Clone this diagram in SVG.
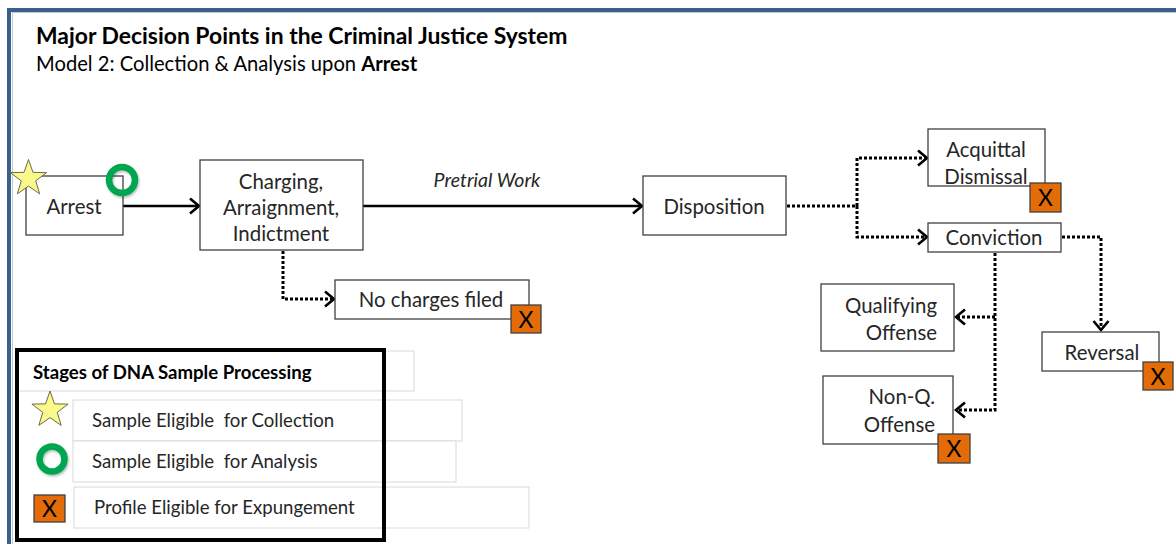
<svg xmlns="http://www.w3.org/2000/svg" width="1176" height="544" viewBox="0 0 1176 544">
<defs>
<style>
text{font-family:Lato,"Open Sans","Liberation Sans",sans-serif;fill:#262626}
.box{fill:#fff;stroke:#404040;stroke-width:1.3}
.lbl{font-size:20.4px;text-anchor:middle}
.lblr{font-size:20.4px;text-anchor:end}
.xb{fill:#e36c09;stroke:#404040;stroke-width:1.3}
.xt{font-size:23px;text-anchor:middle;fill:#000}
.solid{fill:none;stroke:#000;stroke-width:2.6}
.dot{fill:none;stroke:#000;stroke-width:3;stroke-dasharray:3 2}
.lg{fill:#fff;stroke:#d9d9d9;stroke-width:1}
.lt{font-size:18.6px;white-space:pre}
.star{fill:#fafa8c;stroke:#6b6b4a;stroke-width:1}
.ring{fill:none;stroke:#00a650;stroke-width:6.5}
</style>
<marker id="ah" markerUnits="userSpaceOnUse" markerWidth="14" markerHeight="18" refX="10" refY="8" orient="auto" overflow="visible">
<path d="M1,0.5 L10,8 L1,15.5" fill="none" stroke="#000" stroke-width="2.6"/>
</marker>
<polygon id="st" points="0,-19 4.47,-6.15 18.07,-5.87 7.23,2.35 11.17,15.37 0,7.6 -11.17,15.37 -7.23,2.35 -18.07,-5.87 -4.47,-6.15"/>
<filter id="sh" x="-30%" y="-30%" width="160%" height="160%"><feDropShadow dx="1" dy="1.5" stdDeviation="1" flood-color="#000" flood-opacity="0.3"/></filter>
</defs>
<rect width="1176" height="544" fill="#fff"/>
<g id="frame">
<line x1="8" y1="10" x2="1176" y2="10" stroke="#3b5f8f" stroke-width="4"/>
<line x1="9" y1="8" x2="9" y2="544" stroke="#3b5f8f" stroke-width="4"/>
<line x1="12" y1="12.5" x2="1176" y2="12.5" stroke="#c8c8c8" stroke-width="1"/>
<line x1="12.5" y1="12" x2="12.5" y2="544" stroke="#c8c8c8" stroke-width="1"/>
</g>
<g id="title">
<text x="36" y="44" style="font-size:22.9px;font-weight:bold;fill:#000">Major Decision Points in the Criminal Justice System</text>
<text x="36" y="71" style="font-size:20.2px;fill:#000">Model 2: Collection &amp; Analysis upon <tspan style="font-weight:bold">Arrest</tspan></text>
</g>
<g id="connectors">
<line class="solid" x1="123" y1="206" x2="199" y2="206" marker-end="url(#ah)"/>
<line class="solid" x1="363" y1="206" x2="642" y2="206" marker-end="url(#ah)"/>
<text x="487" y="187" style="font-size:19.5px;font-style:italic;text-anchor:middle">Pretrial Work</text>
<path class="dot" d="M283,251 V299 H334" marker-end="url(#ah)"/>
<path class="dot" d="M787,206 H857 V158 H927" marker-end="url(#ah)"/>
<path class="dot" d="M857,206 V237 H927" marker-end="url(#ah)"/>
<path class="dot" d="M1062,237 H1101 V330" marker-end="url(#ah)"/>
<path class="dot" d="M995,253 V410 H956" marker-end="url(#ah)"/>
<path class="dot" d="M995,317 H956" marker-end="url(#ah)"/>
</g>
<g id="arrest">
<rect class="box" x="26" y="176" width="97" height="59"/>
<text class="lbl" x="74" y="213.5">Arrest</text>
<use href="#st" class="star" x="28.5" y="178.5"/>
<circle class="ring" cx="122" cy="180" r="13" filter="url(#sh)"/>
</g>
<g id="charging">
<rect class="box" x="200" y="160" width="163" height="90"/>
<text class="lbl" x="281" y="188.5">Charging,</text>
<text class="lbl" x="281" y="214.5">Arraignment,</text>
<text class="lbl" x="281" y="240.5">Indictment</text>
</g>
<g id="no-charges">
<rect class="box" x="335" y="280" width="194" height="39"/>
<text class="lbl" x="431" y="306.5">No charges filed</text>
<rect class="xb" x="511" y="305" width="30" height="28"/>
<text class="xt" x="526" y="327.5">X</text>
</g>
<g id="disposition">
<rect class="box" x="643" y="176" width="143" height="59"/>
<text class="lbl" x="714" y="213.5">Disposition</text>
</g>
<g id="acquittal">
<rect class="box" x="928" y="129" width="117" height="57"/>
<text class="lbl" x="986" y="156.5">Acquittal</text>
<text class="lbl" x="986" y="183.5">Dismissal</text>
<rect class="xb" x="1030" y="183" width="31" height="29"/>
<text class="xt" x="1045.5" y="206">X</text>
</g>
<g id="conviction">
<rect class="box" x="928" y="223" width="133" height="29"/>
<text class="lbl" x="994" y="244.5">Conviction</text>
</g>
<g id="reversal">
<rect class="box" x="1042" y="332" width="117" height="39"/>
<text class="lbl" x="1102" y="359.5">Reversal</text>
<rect class="xb" x="1143" y="362" width="30" height="28"/>
<text class="xt" x="1158" y="384.5">X</text>
</g>
<g id="qualifying">
<rect class="box" x="821" y="284" width="133" height="67"/>
<text class="lblr" x="937" y="312.5">Qualifying</text>
<text class="lblr" x="937" y="339.5">Offense</text>
</g>
<g id="non-q">
<rect class="box" x="823" y="376" width="130" height="68"/>
<text class="lblr" x="935" y="403.5">Non-Q.</text>
<text class="lblr" x="935" y="431.5">Offense</text>
<rect class="xb" x="938" y="434" width="32" height="29"/>
<text class="xt" x="954" y="457">X</text>
</g>
<g id="legend">
<rect class="lg" x="17" y="351" width="397" height="40"/>
<rect class="lg" x="73" y="400" width="389" height="41"/>
<rect class="lg" x="73" y="441" width="383" height="41"/>
<rect class="lg" x="74" y="487" width="455" height="41"/>
<rect x="17" y="350" width="367" height="190" fill="none" stroke="#000" stroke-width="4"/>
<text x="33" y="379" style="font-size:18.6px;font-weight:bold;fill:#000">Stages of DNA Sample Processing</text>
<use href="#st" class="star" x="50" y="410"/>
<text class="lt" x="92" y="427" xml:space="preserve">Sample Eligible  for Collection</text>
<circle class="ring" cx="52" cy="459" r="12.5" filter="url(#sh)"/>
<text class="lt" x="92" y="468" xml:space="preserve">Sample Eligible  for Analysis</text>
<rect class="xb" x="34" y="495" width="31" height="27"/>
<text class="xt" x="49.5" y="516.5">X</text>
<text class="lt" x="94" y="514">Profile Eligible for Expungement</text>
</g>
</svg>
